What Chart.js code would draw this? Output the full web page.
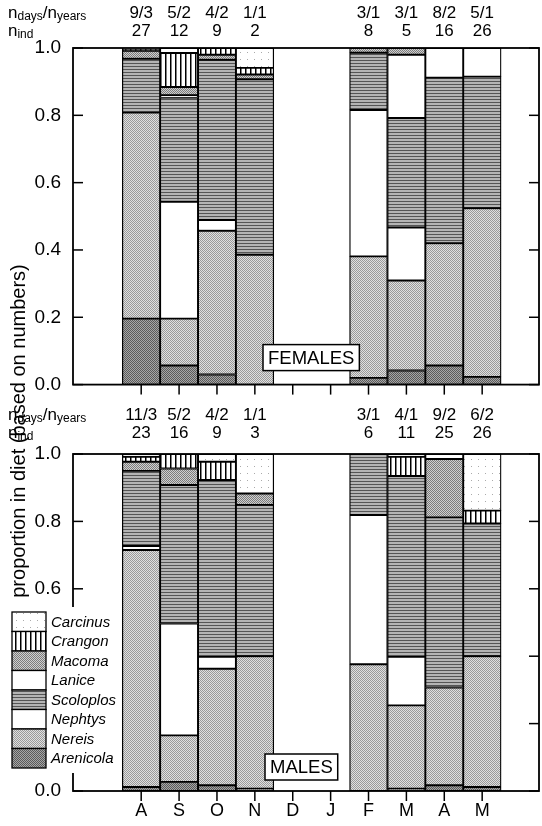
<!DOCTYPE html>
<html>
<head>
<meta charset="utf-8">
<script src="https://cdn.jsdelivr.net/npm/chart.js@4.4.1/dist/chart.umd.min.js"></script>
<style>
  html,body{margin:0;padding:0;background:#fff;}
  #wrap{position:relative;width:542px;height:826px;overflow:hidden;}
  canvas{position:absolute;left:0;}
  #ytitle{position:absolute;width:420px;height:24px;line-height:24px;text-align:center;
    font-family:"Liberation Sans",Arial,sans-serif;font-size:20px;color:#000;
    left:-192px;top:419px;transform:rotate(-90deg);white-space:nowrap;}
</style>
</head>
<body>
<div id="wrap">
  <canvas id="c1" width="542" height="400" style="top:0"></canvas>
  <canvas id="c2" width="542" height="426" style="top:400px"></canvas>
  <div id="ytitle">proportion in diet (based on numbers)</div>
</div>
<script>
// ---------- data ----------
const months = ['A','S','O','N','D','J','F','M','A','M'];
const species = ['Carcinus','Crangon','Macoma','Lanice','Scoloplos','Nephtys','Nereis','Arenicola'];
const yTicks = [0, 0.2, 0.4, 0.6, 0.8, 1.0];

// FEMALES (null = no data)
const fCarcinus  = [0.004,0.015,0,    0.059,null,null,0,    0,    0,    0];
const fCrangon   = [0.004,0.101,0.020,0.020,null,null,0,    0,    0,    0];
const fMacoma    = [0.024,0.024,0.015,0.014,null,null,0.014,0.020,0,    0];
const fLanice    = [0,    0.007,0,    0,    null,null,0,    0.188,0.088,0.085];
const fScoloplos = [0.160,0.310,0.476,0.521,null,null,0.170,0.325,0.492,0.391];
const fNephtys   = [0,    0.347,0.032,0,    null,null,0.435,0.158,0,    0];
const fNereis    = [0.612,0.139,0.427,0.386,null,null,0.361,0.267,0.363,0.501];
const fArenicola = [0.196,0.057,0.030,0,    null,null,0.020,0.042,0.057,0.023];

// MALES
const mCarcinus  = [0.008,0,    0.023,0.117,null,null,0,    0.008,0.015,0.168];
const mCrangon   = [0.015,0.043,0.054,0,    null,null,0,    0.057,0,    0.038];
const mMacoma    = [0.027,0.049,0,    0.034,null,null,0,    0,    0.173,0];
const mLanice    = [0,    0,    0,    0,    null,null,0,    0,    0,    0];
const mScoloplos = [0.223,0.411,0.525,0.449,null,null,0.181,0.537,0.505,0.394];
const mNephtys   = [0.012,0.332,0.035,0,    null,null,0.443,0.144,0,    0];
const mNereis    = [0.703,0.138,0.346,0.393,null,null,0.376,0.247,0.290,0.388];
const mArenicola = [0.012,0.027,0.017,0.007,null,null,0,    0.007,0.017,0.012];

// header labels
const fDays = ['9/3','5/2','4/2','1/1','','','3/1','3/1','8/2','5/1'];
const fInd  = ['27','12','9','2','','','8','5','16','26'];
const mDays = ['11/3','5/2','4/2','1/1','','','3/1','4/1','9/2','6/2'];
const mInd  = ['23','16','9','3','','','6','11','25','26'];

// ---------- fills ----------
const FONT = '"Liberation Sans", Arial, sans-serif';
function tile(w,h,draw){const c=document.createElement('canvas');c.width=w;c.height=h;const g=c.getContext('2d');draw(g);return g.createPattern(c,'repeat');}
function checker(a,b){return tile(2,2,g=>{g.fillStyle=a;g.fillRect(0,0,2,2);g.fillStyle=b;g.fillRect(0,0,1,1);g.fillRect(1,1,1,1);});}
const fills = {
  Carcinus: tile(7,7,g=>{g.fillStyle='#fff';g.fillRect(0,0,7,7);g.fillStyle='#aaa';g.fillRect(2,3,1,1);}),
  Crangon: tile(5,1,g=>{g.fillStyle='#fff';g.fillRect(0,0,5,1);g.fillStyle='#000';g.fillRect(0,0,1.5,1);}),
  Macoma: checker('#cfcfcf','#7c7c7c'),
  Lanice: '#ffffff',
  Scoloplos: tile(1,3,g=>{g.fillStyle='#b4b4b4';g.fillRect(0,0,1,3);g.fillStyle='#555';g.fillRect(0,0,1,1);}),
  Nephtys: '#ffffff',
  Nereis: checker('#e0e0e0','#9a9a9a'),
  Arenicola: checker('#a6a6a6','#5a5a5a')
};

const stackOrder = ['Arenicola','Nereis','Nephtys','Scoloplos','Lanice','Macoma','Crangon','Carcinus'];
function pts(arr){const out=[];arr.forEach((v,i)=>{if(v!==null)out.push({x:i,y:v});});return out;}
function makeDatasets(src){
  return stackOrder.map(name=>({
    label:name, data:pts(src[name]), backgroundColor:fills[name],
    borderColor:'#000', borderWidth:1.3, borderSkipped:false,
    barPercentage:1, categoryPercentage:1, stack:'s'
  }));
}
const femaleSrc = {Carcinus:fCarcinus,Crangon:fCrangon,Macoma:fMacoma,Lanice:fLanice,Scoloplos:fScoloplos,Nephtys:fNephtys,Nereis:fNereis,Arenicola:fArenicola};
const maleSrc = {Carcinus:mCarcinus,Crangon:mCrangon,Macoma:mMacoma,Lanice:mLanice,Scoloplos:mScoloplos,Nephtys:mNephtys,Nereis:mNereis,Arenicola:mArenicola};

// ---------- decoration plugin ----------
const decor = {
  id:'decor',
  afterDraw(chart, args, o){
    const ctx = chart.ctx, a = chart.chartArea, x = chart.scales.x, y = chart.scales.y;
    ctx.save();
    ctx.strokeStyle='#000'; ctx.fillStyle='#000'; ctx.lineWidth=1.5;
    const line=(x1,y1,x2,y2)=>{ctx.beginPath();ctx.moveTo(x1,y1);ctx.lineTo(x2,y2);ctx.stroke();};
    months.forEach((m,i)=>{const px=x.getPixelForValue(i);line(px,a.bottom,px,a.bottom+10);});
    y.ticks.forEach(t=>{const py=y.getPixelForValue(t.value);line(a.left,py,a.left+10,py);line(a.right-10,py,a.right,py);});
    ctx.lineWidth=1.8;
    ctx.strokeRect(a.left,a.top,a.right-a.left,a.bottom-a.top);
    // header
    ctx.textBaseline='middle';
    ctx.textAlign='left';
    let cx=8;
    const big='17px '+FONT, sm='12px '+FONT;
    ctx.font=big; ctx.fillText('n',cx,o.y1); cx+=ctx.measureText('n').width;
    ctx.font=sm; ctx.fillText('days',cx,o.y1+4); cx+=ctx.measureText('days').width;
    ctx.font=big; ctx.fillText('/n',cx,o.y1); cx+=ctx.measureText('/n').width;
    ctx.font=sm; ctx.fillText('years',cx,o.y1+4);
    cx=8;
    ctx.font=big; ctx.fillText('n',cx,o.y2); cx+=ctx.measureText('n').width;
    ctx.font=sm; ctx.fillText('ind',cx,o.y2+4);
    ctx.textAlign='center'; ctx.font='17px '+FONT;
    o.days.forEach((d,i)=>{const px=x.getPixelForValue(i);if(d)ctx.fillText(d,px,o.y1);if(o.ind[i])ctx.fillText(o.ind[i],px,o.y2);});
    // sex label box
    ctx.font='18.5px '+FONT; ctx.textAlign='left';
    const tw=ctx.measureText(o.label).width;
    const bx=o.boxX, bh=26, by=a.bottom-o.boxBottom-bh;
    ctx.fillStyle='#fff'; ctx.fillRect(bx,by,tw+10,bh);
    ctx.lineWidth=1.5; ctx.strokeRect(bx,by,tw+10,bh);
    ctx.fillStyle='#000'; ctx.fillText(o.label,bx+5,by+bh/2+1);
    // legend
    if(o.legend){
      ctx.fillStyle='#fff'; ctx.fillRect(0,o.legend.top-5,119,o.legend.row*8+10);
      species.forEach((name,k)=>{
        const ds=chart.data.datasets.find(d=>d.label===name);
        const ty=o.legend.top+k*o.legend.row;
        ctx.fillStyle=ds.backgroundColor; ctx.fillRect(12,ty,34,o.legend.row);
        ctx.strokeStyle='#000'; ctx.lineWidth=1.3; ctx.strokeRect(12,ty,34,o.legend.row);
        ctx.fillStyle='#000'; ctx.font='italic 15px '+FONT; ctx.textAlign='left';
        ctx.fillText(name,51,ty+o.legend.row/2+1);
      });
    }
    ctx.restore();
  }
};

function makeChart(id, src, opts){
  return new Chart(document.getElementById(id), {
    type:'bar',
    data:{datasets:makeDatasets(src)},
    plugins:[decor],
    options:{
      responsive:false, animation:false, devicePixelRatio:1,
      layout:{padding:{top:opts.padTop,right:3,left:0,bottom:0}},
      plugins:{legend:{display:false},tooltip:{enabled:false},decor:opts.decor},
      scales:{
        x:{type:'linear',stacked:true,min:-1.8,max:10.5,offset:false,
          grid:{display:false},border:{display:false},
          afterBuildTicks:s=>{s.ticks=months.map((m,i)=>({value:i}));},
          afterFit:s=>{s.height=opts.xHeight;},
          ticks:{display:opts.showX,autoSkip:false,maxRotation:0,padding:1,color:'#000',
            font:{family:FONT,size:18},callback:(v)=>months[v]}},
        y:{stacked:true,min:0,max:1,
          grid:{display:false},border:{display:false},
          afterBuildTicks:s=>{s.ticks=yTicks.map(v=>({value:v}));},
          afterFit:s=>{s.width=73;},
          ticks:{padding:4,color:'#000',font:{family:FONT,size:19},callback:v=>Number(v).toFixed(1)}}
      }
    }
  });
}

makeChart('c1', femaleSrc, {padTop:48, xHeight:12, showX:false,
  decor:{y1:13,y2:31,days:fDays,ind:fInd,label:'FEMALES',boxX:263,boxBottom:14,legend:null}});
makeChart('c2', maleSrc, {padTop:54, xHeight:35, showX:true,
  decor:{y1:15,y2:33,days:mDays,ind:mInd,label:'MALES',boxX:265,boxBottom:11,legend:{top:212,row:19.5}}});
</script>
</body>
</html>
